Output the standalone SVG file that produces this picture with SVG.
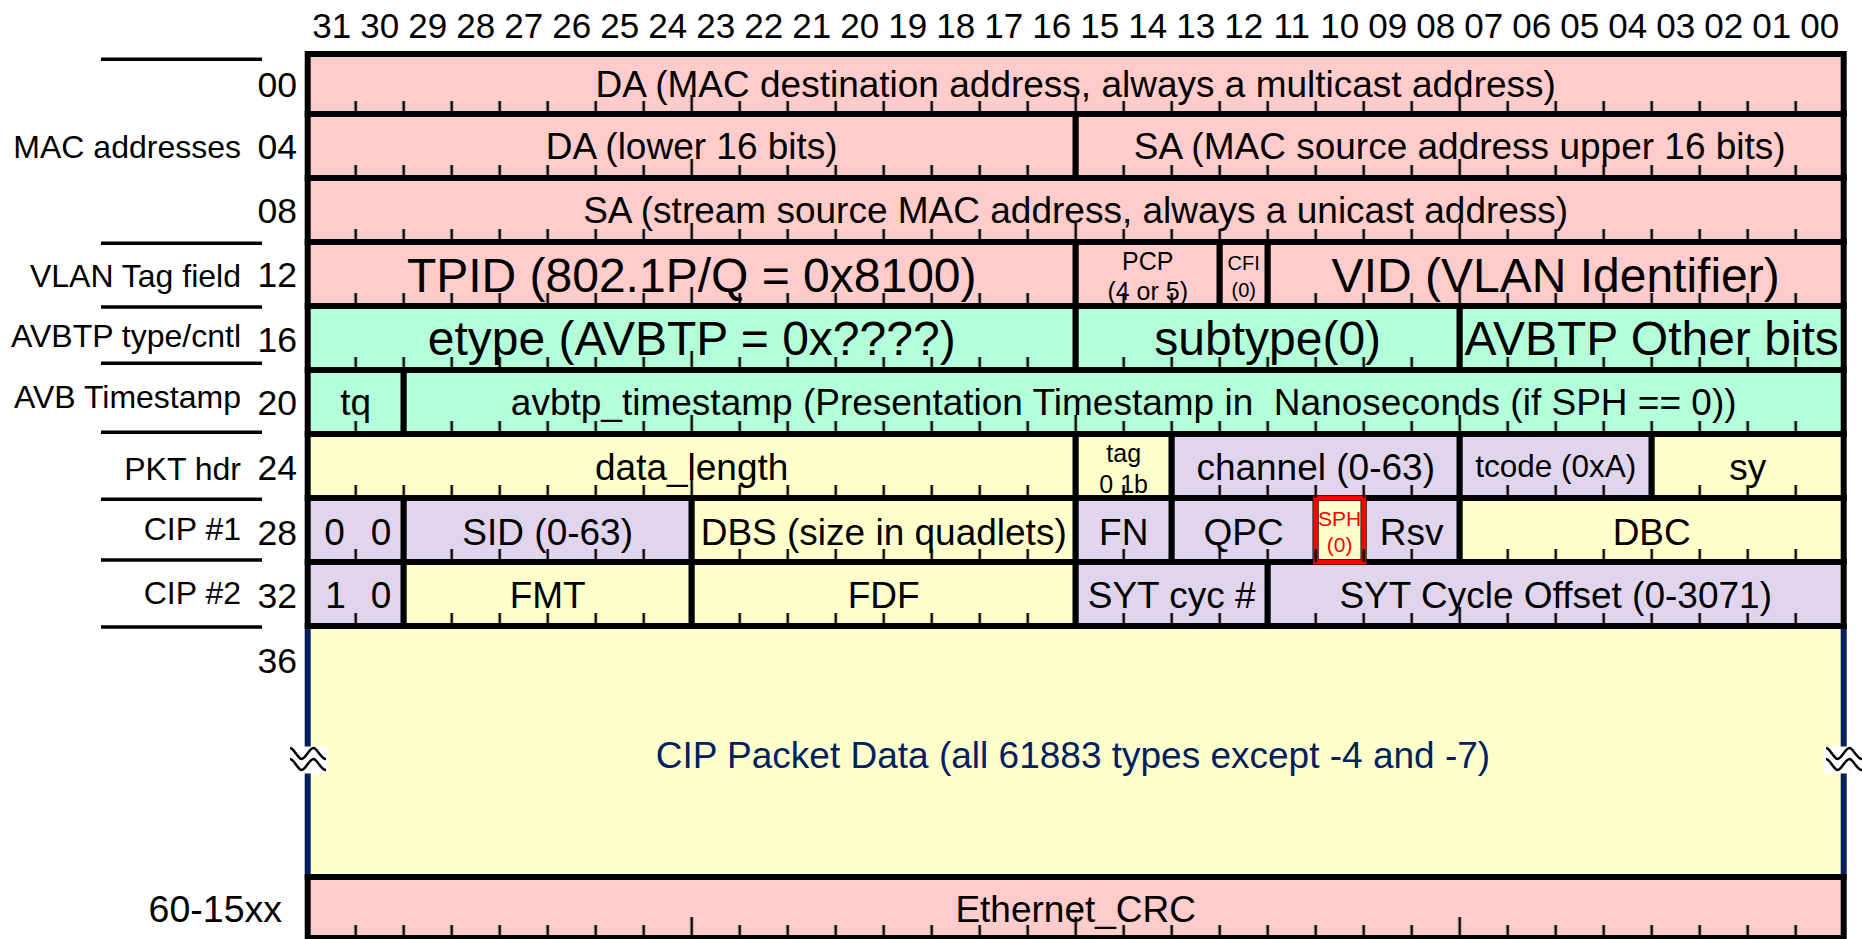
<svg xmlns="http://www.w3.org/2000/svg" width="1862" height="939" viewBox="0 0 1862 939">
<defs>
<style>
text{font-family:"Liberation Sans",Arial,Helvetica,sans-serif;fill:#000}
.f{stroke:#000;stroke-width:6}
.pk{fill:#FFCCCC}.gr{fill:#B3FFD9}.ye{fill:#FFFFCC}.pu{fill:#E1D5EE}
.t{font-size:37px;text-anchor:middle}
.b{font-size:48px;text-anchor:middle}
.s{font-size:25px;text-anchor:middle}
.xs{font-size:20px;text-anchor:middle}
.h{font-size:35px;text-anchor:middle}
.n{font-size:35.5px;text-anchor:end}
.l{font-size:32px;text-anchor:end}
.nv{fill:#002060}
.rd{fill:#FF0000}
.sep{stroke:#000;stroke-width:3.5}
.wave{fill:none;stroke:#000;stroke-width:2.5}
</style>
<pattern id="tk" x="283.7" y="0" width="48" height="939" patternUnits="userSpaceOnUse"><rect x="22.75" y="0" width="2.5" height="939" fill="#000"/></pattern>
<pattern id="tkl" x="115.7" y="0" width="384" height="939" patternUnits="userSpaceOnUse"><rect x="190.75" y="0" width="2.5" height="939" fill="#000"/></pattern>
<g id="brk">
<rect x="-20" y="-13.5" width="40" height="27" fill="#fff"/>
<path class="wave" d="M-18,-12 C-14,-12 -10,-1 -6.3,-1 S1.5,-12 5.3,-12 S13,-1 18,-1"/>
<path class="wave" d="M-18,-1 C-14,-1 -10,10 -6.3,10 S1.5,-1 5.3,-1 S13,10 18,10"/>
</g>
</defs>
<rect width="1862" height="939" fill="#fff"/>

<g id="bit-header">
<text class="h" x="331.7" y="38">31</text><text class="h" x="379.7" y="38">30</text><text class="h" x="427.7" y="38">29</text><text class="h" x="475.7" y="38">28</text>
<text class="h" x="523.7" y="38">27</text><text class="h" x="571.7" y="38">26</text><text class="h" x="619.7" y="38">25</text><text class="h" x="667.7" y="38">24</text>
<text class="h" x="715.7" y="38">23</text><text class="h" x="763.7" y="38">22</text><text class="h" x="811.7" y="38">21</text><text class="h" x="859.7" y="38">20</text>
<text class="h" x="907.7" y="38">19</text><text class="h" x="955.7" y="38">18</text><text class="h" x="1003.7" y="38">17</text><text class="h" x="1051.7" y="38">16</text>
<text class="h" x="1099.7" y="38">15</text><text class="h" x="1147.7" y="38">14</text><text class="h" x="1195.7" y="38">13</text><text class="h" x="1243.7" y="38">12</text>
<text class="h" x="1291.7" y="38">11</text><text class="h" x="1339.7" y="38">10</text><text class="h" x="1387.7" y="38">09</text><text class="h" x="1435.7" y="38">08</text>
<text class="h" x="1483.7" y="38">07</text><text class="h" x="1531.7" y="38">06</text><text class="h" x="1579.7" y="38">05</text><text class="h" x="1627.7" y="38">04</text>
<text class="h" x="1675.7" y="38">03</text><text class="h" x="1723.7" y="38">02</text><text class="h" x="1771.7" y="38">01</text><text class="h" x="1819.7" y="38">00</text>
</g>

<g id="offset-labels">
<text class="n" x="297" y="97">00</text>
<text class="n" x="297" y="159">04</text>
<text class="n" x="297" y="223">08</text>
<text class="n" x="297" y="287">12</text>
<text class="n" x="297" y="351.5">16</text>
<text class="n" x="297" y="415">20</text>
<text class="n" x="297" y="480">24</text>
<text class="n" x="297" y="545">28</text>
<text class="n" x="297" y="608">32</text>
<text class="n" x="297" y="673">36</text>
<text class="n" style="font-size:37.5px" x="282" y="922">60-15xx</text>
</g>

<g id="group-labels">
<text class="l" x="241" y="158">MAC addresses</text>
<text class="l" x="241" y="287">VLAN Tag field</text>
<text class="l" x="241" y="347">AVBTP type/cntl</text>
<text class="l" x="241" y="408">AVB Timestamp</text>
<text class="l" x="241" y="480">PKT hdr</text>
<text class="l" x="241" y="539.5">CIP #1</text>
<text class="l" x="241" y="603.5">CIP #2</text>
<line class="sep" x1="101" y1="59.3" x2="262" y2="59.3"/>
<line class="sep" x1="101" y1="243.3" x2="262" y2="243.3"/>
<line class="sep" x1="101" y1="307" x2="262" y2="307"/>
<line class="sep" x1="101" y1="363.3" x2="262" y2="363.3"/>
<line class="sep" x1="101" y1="432.3" x2="262" y2="432.3"/>
<line class="sep" x1="101" y1="499.3" x2="262" y2="499.3"/>
<line class="sep" x1="101" y1="560" x2="262" y2="560"/>
<line class="sep" x1="101" y1="627" x2="262" y2="627"/>
</g>

<g id="cip-data">
<rect x="307.7" y="626" width="1536" height="251" fill="#FFFFCC" stroke="#002060" stroke-width="6"/>
<text class="t nv" x="1073" y="768">CIP Packet Data (all 61883 types except -4 and -7)</text>
</g>

<g id="row00">
<g id="da"><rect class="f pk" x="307.7" y="54" width="1536" height="60"/><text class="t" x="1075.7" y="97">DA (MAC destination address, always a multicast address)</text></g>
</g>
<g id="row04">
<g id="da-lower"><rect class="f pk" x="307.7" y="114" width="768" height="64"/><text class="t" x="691.7" y="159">DA (lower 16 bits)</text></g>
<g id="sa-upper"><rect class="f pk" x="1075.7" y="114" width="768" height="64"/><text class="t" x="1459.7" y="159">SA (MAC source address upper 16 bits)</text></g>
</g>
<g id="row08">
<g id="sa"><rect class="f pk" x="307.7" y="178" width="1536" height="64"/><text class="t" x="1075.7" y="223">SA (stream source MAC address, always a unicast address)</text></g>
</g>
<g id="row12">
<g id="tpid"><rect class="f pk" x="307.7" y="242" width="768" height="64"/><text class="b" x="691.7" y="292">TPID (802.1P/Q = 0x8100)</text></g>
<g id="pcp"><rect class="f pk" x="1075.7" y="242" width="144" height="64"/><text class="s" x="1147.7" y="269.5">PCP</text><text class="s" x="1147.7" y="300">(4 or 5)</text></g>
<g id="cfi"><rect class="f pk" x="1219.7" y="242" width="48" height="64"/><text class="xs" x="1243.7" y="270">CFI</text><text class="xs" x="1243.7" y="297">(0)</text></g>
<g id="vid"><rect class="f pk" x="1267.7" y="242" width="576" height="64"/><text class="b" x="1555.7" y="292">VID (VLAN Identifier)</text></g>
</g>
<g id="row16">
<g id="etype"><rect class="f gr" x="307.7" y="306" width="768" height="64"/><text class="b" x="691.7" y="355">etype (AVBTP = 0x????)</text></g>
<g id="subtype"><rect class="f gr" x="1075.7" y="306" width="384" height="64"/><text class="b" x="1267.7" y="355">subtype(0)</text></g>
<g id="avbtp-other"><rect class="f gr" x="1459.7" y="306" width="384" height="64"/><text class="b" x="1651.7" y="355">AVBTP Other bits</text></g>
</g>
<g id="row20">
<g id="tq"><rect class="f gr" x="307.7" y="370" width="96" height="64"/><text class="t" x="355.7" y="415">tq</text></g>
<g id="timestamp"><rect class="f gr" x="403.7" y="370" width="1440" height="64"/><text class="t" x="1123.7" y="415" xml:space="preserve" style="white-space:pre">avbtp_timestamp (Presentation Timestamp in  Nanoseconds (if SPH == 0))</text></g>
</g>
<g id="row24">
<g id="data-length"><rect class="f ye" x="307.7" y="434" width="768" height="64"/><text class="t" x="691.7" y="480">data_length</text></g>
<g id="tag"><rect class="f ye" x="1075.7" y="434" width="96" height="64"/><text class="s" x="1123.7" y="461.7">tag</text><text class="s" x="1123.7" y="492.7">0 1b</text></g>
<g id="channel"><rect class="f pu" x="1171.7" y="434" width="288" height="64"/><text class="t" x="1315.7" y="480">channel (0-63)</text></g>
<g id="tcode"><rect class="f pu" x="1459.7" y="434" width="192" height="64"/><text class="t" style="font-size:31.5px" x="1555.7" y="477">tcode (0xA)</text></g>
<g id="sy"><rect class="f ye" x="1651.7" y="434" width="192" height="64"/><text class="t" x="1747.7" y="480">sy</text></g>
</g>
<g id="row28">
<g id="cip1-00"><rect class="f pu" x="307.7" y="498" width="96" height="64"/><text class="t" y="545"><tspan x="334.5">0</tspan><tspan x="376"> 0</tspan></text></g>
<g id="sid"><rect class="f pu" x="403.7" y="498" width="288" height="64"/><text class="t" x="547.7" y="545">SID (0-63)</text></g>
<g id="dbs"><rect class="f ye" x="691.7" y="498" width="384" height="64"/><text class="t" x="883.7" y="545">DBS (size in quadlets)</text></g>
<g id="fn"><rect class="f pu" x="1075.7" y="498" width="96" height="64"/><text class="t" x="1123.7" y="545">FN</text></g>
<g id="qpc"><rect class="f pu" x="1171.7" y="498" width="144" height="64"/><text class="t" x="1243.7" y="545">QPC</text></g>
<g id="sph"><rect class="f ye" x="1315.7" y="498" width="48" height="64"/></g>
<g id="rsv"><rect class="f pu" x="1363.7" y="498" width="96" height="64"/><text class="t" x="1411.7" y="545">Rsv</text></g>
<g id="dbc"><rect class="f ye" x="1459.7" y="498" width="384" height="64"/><text class="t" x="1651.7" y="545">DBC</text></g>
</g>
<g id="row32">
<g id="cip2-10"><rect class="f pu" x="307.7" y="562" width="96" height="64"/><text class="t" y="608"><tspan x="335.5">1</tspan><tspan x="376"> 0</tspan></text></g>
<g id="fmt"><rect class="f ye" x="403.7" y="562" width="288" height="64"/><text class="t" x="547.7" y="608">FMT</text></g>
<g id="fdf"><rect class="f ye" x="691.7" y="562" width="384" height="64"/><text class="t" x="883.7" y="608">FDF</text></g>
<g id="syt-cyc"><rect class="f pu" x="1075.7" y="562" width="192" height="64"/><text class="t" x="1171.7" y="608">SYT cyc #</text></g>
<g id="syt-offset"><rect class="f pu" x="1267.7" y="562" width="576" height="64"/><text class="t" x="1555.7" y="608">SYT Cycle Offset (0-3071)</text></g>
</g>
<g id="crc">
<rect class="f pk" x="307.7" y="877" width="1536" height="61"/>
<text class="t" x="1075.7" y="922">Ethernet_CRC</text>
</g>

<g id="sph-mark">
<rect x="1315.7" y="498" width="48" height="64" fill="none" stroke="#FF0000" stroke-width="5"/>
<text class="rd" style="font-size:21px;text-anchor:middle" x="1339.7" y="526">SPH</text>
<text class="rd" style="font-size:21px;text-anchor:middle" x="1339.7" y="552">(0)</text>
</g>

<g id="breaks">
<use href="#brk" x="308" y="760"/>
<use href="#brk" x="1844" y="760"/>
</g>

<g id="ticks">
<rect x="331.7" y="101" width="1488" height="13" fill="url(#tk)"/><rect x="331.7" y="95" width="1488" height="6" fill="url(#tkl)"/>
<rect x="331.7" y="165" width="1488" height="13" fill="url(#tk)"/><rect x="331.7" y="159" width="1488" height="6" fill="url(#tkl)"/>
<rect x="331.7" y="229" width="1488" height="13" fill="url(#tk)"/><rect x="331.7" y="223" width="1488" height="6" fill="url(#tkl)"/>
<rect x="331.7" y="293" width="1488" height="13" fill="url(#tk)"/><rect x="331.7" y="287" width="1488" height="6" fill="url(#tkl)"/>
<rect x="331.7" y="357" width="1488" height="13" fill="url(#tk)"/><rect x="331.7" y="351" width="1488" height="6" fill="url(#tkl)"/>
<rect x="331.7" y="421" width="1488" height="13" fill="url(#tk)"/><rect x="331.7" y="415" width="1488" height="6" fill="url(#tkl)"/>
<rect x="331.7" y="485" width="1488" height="13" fill="url(#tk)"/><rect x="331.7" y="479" width="1488" height="6" fill="url(#tkl)"/>
<rect x="331.7" y="549" width="1488" height="13" fill="url(#tk)"/><rect x="331.7" y="543" width="1488" height="6" fill="url(#tkl)"/>
<rect x="331.7" y="613" width="1488" height="13" fill="url(#tk)"/><rect x="331.7" y="607" width="1488" height="6" fill="url(#tkl)"/>
<rect x="331.7" y="925" width="1488" height="13" fill="url(#tk)"/><rect x="331.7" y="917" width="1488" height="8" fill="url(#tkl)"/>
</g>
</svg>
